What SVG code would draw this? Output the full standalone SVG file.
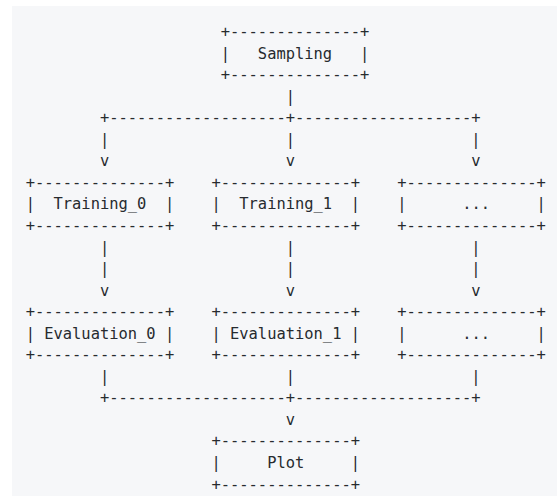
<svg xmlns="http://www.w3.org/2000/svg" width="557" height="496" viewBox="0 0 557 496" xml:space="preserve">
<style>
text { font-family: "DejaVu Sans Mono", "Liberation Mono", monospace; font-size: 15.43px; fill: #272b2f; white-space: pre; }
</style>
<rect x="0" y="0" width="557" height="496" fill="#ffffff"/>
<rect x="12" y="6" width="545" height="490" fill="#f6f7f9"/>
<g id="sampling">
<text x="220.74" y="37.0">+--------------+</text>
<text x="220.74" y="58.55">|   Sampling   |</text>
<text x="220.74" y="80.1">+--------------+</text>
</g>
<g id="training_0">
<text x="25.65" y="187.85">+--------------+</text>
<text x="25.65" y="209.4">|  Training_0  |</text>
<text x="25.65" y="230.95">+--------------+</text>
</g>
<g id="training_1">
<text x="211.45" y="187.85">+--------------+</text>
<text x="211.45" y="209.4">|  Training_1  |</text>
<text x="211.45" y="230.95">+--------------+</text>
</g>
<g id="training_n">
<text x="397.25" y="187.85">+--------------+</text>
<text x="397.25" y="209.4">|      ...     |</text>
<text x="397.25" y="230.95">+--------------+</text>
</g>
<g id="evaluation_0">
<text x="25.65" y="317.15">+--------------+</text>
<text x="25.65" y="338.7">| Evaluation_0 |</text>
<text x="25.65" y="360.25">+--------------+</text>
</g>
<g id="evaluation_1">
<text x="211.45" y="317.15">+--------------+</text>
<text x="211.45" y="338.7">| Evaluation_1 |</text>
<text x="211.45" y="360.25">+--------------+</text>
</g>
<g id="evaluation_n">
<text x="397.25" y="317.15">+--------------+</text>
<text x="397.25" y="338.7">|      ...     |</text>
<text x="397.25" y="360.25">+--------------+</text>
</g>
<g id="plot">
<text x="211.45" y="446.45">+--------------+</text>
<text x="211.45" y="468.0">|     Plot     |</text>
<text x="211.45" y="489.55">+--------------+</text>
</g>
<g id="connectors">
<text x="285.77" y="101.65">|</text>
<text x="99.97" y="123.2">+-------------------+-------------------+</text>
<text x="99.97" y="144.75">|                   |                   |</text>
<text x="99.97" y="166.3">v                   v                   v</text>
<text x="99.97" y="252.5">|                   |                   |</text>
<text x="99.97" y="274.05">|                   |                   |</text>
<text x="99.97" y="295.6">v                   v                   v</text>
<text x="99.97" y="381.8">|                   |                   |</text>
<text x="99.97" y="403.35">+-------------------+-------------------+</text>
<text x="285.77" y="424.9">v</text>
</g>
</svg>
